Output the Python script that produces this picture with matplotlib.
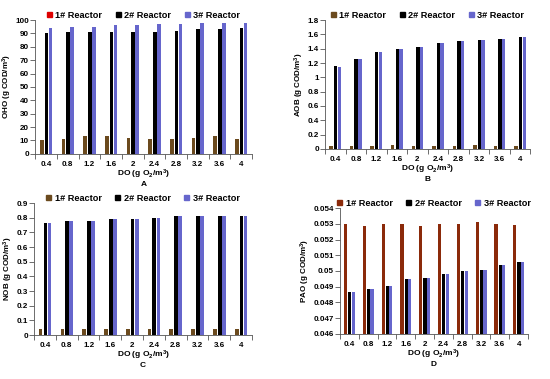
import numpy as np
import matplotlib.pyplot as plt

plt.rcParams['font.family'] = ['Liberation Sans', 'DejaVu Sans']
plt.rcParams['font.weight'] = 'bold'
plt.rcParams['mathtext.fontset'] = 'custom'
plt.rcParams['mathtext.rm'] = 'Liberation Sans:bold'
plt.rcParams['mathtext.bf'] = 'Liberation Sans:bold'
plt.rcParams['mathtext.default'] = 'rm'

do_labels = ['0.4', '0.8', '1.2', '1.6', '2', '2.4', '2.8', '3.2', '3.6', '4']

# A - OHO
oho_r1 = [10, 11, 13, 13, 12, 11, 11, 12, 13, 11]
oho_r2 = [90, 91, 91, 91, 91, 91, 92, 93, 93, 94]
oho_r3 = [94, 95, 95, 96, 96, 97, 97, 98, 98, 98]
# B - AOB
aob_r1 = [0.04, 0.04, 0.04, 0.05, 0.04, 0.04, 0.04, 0.05, 0.04, 0.04]
aob_r2 = [1.16, 1.25, 1.35, 1.39, 1.43, 1.48, 1.51, 1.52, 1.54, 1.56]
aob_r3 = [1.15, 1.25, 1.35, 1.39, 1.43, 1.48, 1.51, 1.52, 1.54, 1.56]
# C - NOB
nob_r1 = [0.04, 0.04, 0.04, 0.04, 0.04, 0.04, 0.04, 0.04, 0.04, 0.04]
nob_r2 = [0.762, 0.775, 0.778, 0.79, 0.795, 0.80, 0.81, 0.81, 0.815, 0.815]
nob_r3 = [0.762, 0.775, 0.778, 0.79, 0.795, 0.80, 0.81, 0.81, 0.815, 0.815]
# D - PAO
pao_r1 = [0.0530, 0.05285, 0.0530, 0.0530, 0.05285, 0.0530, 0.0530, 0.05312, 0.0530, 0.05292]
pao_r2 = [0.04865, 0.04888, 0.04907, 0.04948, 0.04958, 0.04981, 0.04999, 0.05008, 0.0504, 0.05058]
pao_r3 = [0.04865, 0.04888, 0.04907, 0.04948, 0.04958, 0.04981, 0.04999, 0.05008, 0.0504, 0.05058]

c_black = '#000000'
c_blue = '#6666cc'

fig = plt.figure(figsize=(5.5, 3.79), dpi=100)

panels = [
    # rect, r1, r2, r3, name, ylim, yticks, fmt, letter, r1 colour, legend r1 colour
    ([0.064, 0.594, 0.394, 0.353], oho_r1, oho_r2, oho_r3, 'OHO', (0, 100),
     np.arange(0, 101, 10), lambda v: '%d' % v, 'A', '#6b4a1e', '#dd0000'),
    ([0.591, 0.607, 0.373, 0.340], aob_r1, aob_r2, aob_r3, 'AOB', (0, 1.8),
     np.arange(0, 1.81, 0.2), lambda v: ('%g' % round(v, 1)), 'B', '#6b4a1e', '#6b4a1e'),
    ([0.062, 0.116, 0.396, 0.348], nob_r1, nob_r2, nob_r3, 'NOB', (0, 0.9),
     np.arange(0, 0.91, 0.1), lambda v: ('%g' % round(v, 1)), 'C', '#6b4a1e', '#6b4a1e'),
    ([0.618, 0.119, 0.342, 0.332], pao_r1, pao_r2, pao_r3, 'PAO', (0.046, 0.054),
     np.arange(0.046, 0.05401, 0.001), lambda v: ('%g' % round(v, 3)), 'D', '#8b2a0a', '#8b2a0a'),
]

x = np.arange(len(do_labels))
w = 0.17

for rect, r1, r2, r3, name, ylim, yt, fmt, letter, col1, lcol1 in panels:
    ax = fig.add_axes(rect)
    base = ylim[0]
    ax.bar(x - 0.2, np.array(r1) - base, w, bottom=base, color=col1)
    ax.bar(x + 0.02, np.array(r2) - base, w, bottom=base, color=c_black)
    ax.bar(x + 0.21, np.array(r3) - base, w, bottom=base, color=c_blue)
    ax.set_xlim(-0.5, len(do_labels) - 0.5)
    ax.set_ylim(*ylim)
    ax.set_yticks(yt)
    ax.set_yticklabels([fmt(v) for v in yt])
    ax.set_xticks(x)
    ax.set_xticklabels(do_labels)
    ax.set_xticks(np.arange(-0.5, len(do_labels), 1), minor=True)
    ax.tick_params(axis='x', which='major', length=0, labelsize=5.8, pad=5)
    ax.tick_params(axis='x', which='minor', length=3.5, width=0.6, direction='out', color='#555555')
    ax.tick_params(axis='y', length=3.5, width=0.6, labelsize=5.8, pad=1, color='#555555')
    for s in ['top', 'right']:
        ax.spines[s].set_visible(False)
    for s in ['left', 'bottom']:
        ax.spines[s].set_linewidth(0.6)
        ax.spines[s].set_color('#555555')
    ax.set_ylabel(name + ' (g COD/m$^3$)', fontsize=5.8, fontweight='bold', labelpad=1)
    ax.set_xlabel('DO (g O$_2$/m$^3$)', fontsize=6, fontweight='bold', labelpad=0)
    ax.annotate(letter, xy=(0.5, 0), xycoords='axes fraction', xytext=(0, -22),
                textcoords='offset points', ha='center', va='center',
                fontsize=6, fontweight='bold')
    handles = [plt.Rectangle((0, 0), 1, 1, color=lcol1),
               plt.Rectangle((0, 0), 1, 1, color=c_black),
               plt.Rectangle((0, 0), 1, 1, color=c_blue)]
    ax.legend(handles, ['1# Reactor', '2# Reactor', '3# Reactor'], ncol=3,
              loc='lower center', bbox_to_anchor=(0.5, 0.995), frameon=False,
              fontsize=6.6, handlelength=0.5, handleheight=0.5, handletextpad=0.4,
              columnspacing=1.5, borderaxespad=0, borderpad=0.1)

fig.savefig('out.png', dpi=100)
